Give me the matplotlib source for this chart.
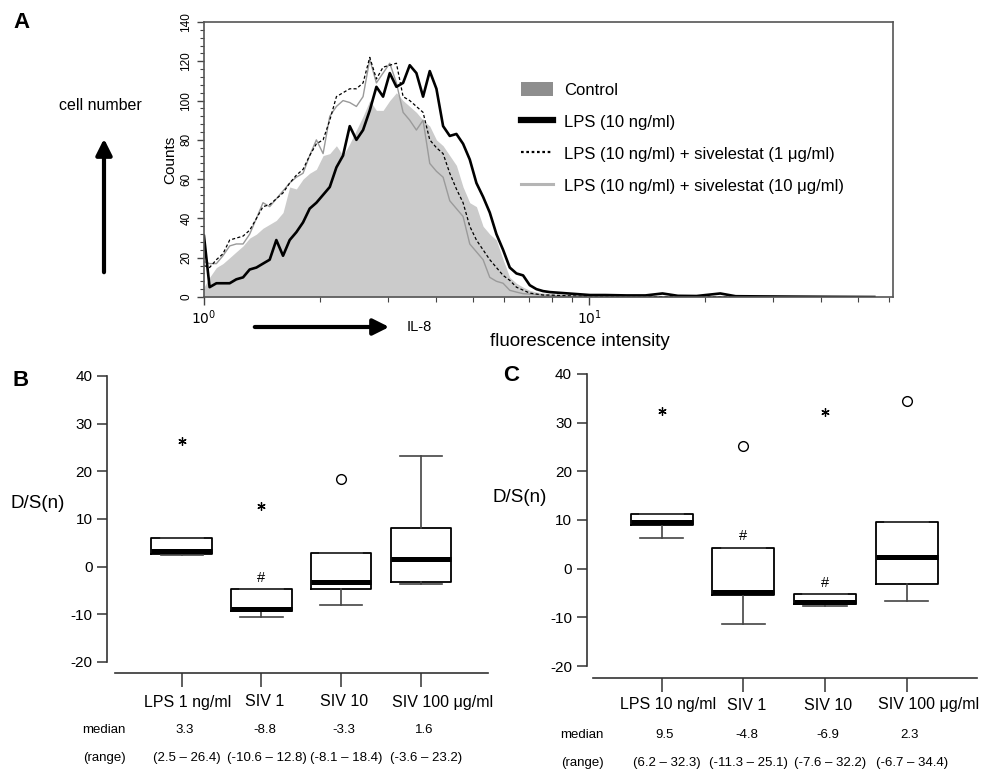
import numpy as np
import matplotlib
matplotlib.use("Agg")
import matplotlib.pyplot as plt
from matplotlib.patches import Patch, FancyArrowPatch
from matplotlib.lines import Line2D
from matplotlib.ticker import MultipleLocator, LogLocator, NullFormatter, FixedLocator
from matplotlib.transforms import blended_transform_factory, offset_copy

plt.rcParams['font.family'] = ['Liberation Sans', 'DejaVu Sans']
plt.rcParams['axes.unicode_minus'] = False

# ---------------- Panel A data (flow cytometry histogram) ----------------
intensity = [1.000, 1.034, 1.077, 1.120, 1.166, 1.213, 1.263, 1.314, 1.368, 1.423,
             1.481, 1.541, 1.604, 1.669, 1.737, 1.808, 1.881, 1.958, 2.038, 2.121,
             2.207, 2.296, 2.390, 2.487, 2.588, 2.694, 2.803, 2.917, 3.036, 3.159,
             3.288, 3.421, 3.560, 3.705, 3.856, 4.013, 4.176, 4.346, 4.522, 4.706,
             4.898, 5.097, 5.304, 5.520, 5.744, 5.978, 6.221, 6.474, 6.737, 7.011,
             7.296, 7.593, 7.901, 8.56, 9.27, 10.04,
             11.0, 12.5, 14.0, 15.5, 17.0, 19.0, 21.9, 24.0, 28.0, 34.0, 42.0, 55.0]
counts_control = [5, 10, 15, 17, 20, 23, 26, 30, 32, 35,
                  37, 39, 43, 56, 55, 60, 63, 65, 72, 73,
                  77, 72, 78, 85, 92, 100, 95, 95, 100, 104,
                  100, 97, 94, 90, 87, 80, 77, 72, 67, 56,
                  48, 46, 36, 32, 29, 19, 10, 7, 5, 3.4,
                  2.5, 2, 1.7, 1.3, 1, 0.7,
                  0.6, 0.5, 0.4, 0.4, 0.3, 0.2, 0.2, 0.1, 0.1, 0, 0, 0]
counts_lps = [31, 5, 7, 7, 7, 9, 10, 14, 15, 17,
              19, 29, 21, 29, 33, 38, 45, 48, 52, 56,
              66, 72, 87, 80, 85, 95, 107, 102, 114, 107,
              109, 118, 114, 102, 115, 106, 87, 82, 83, 78,
              70, 58, 51, 43, 32, 24, 15, 12, 11, 6,
              4, 3, 2.5, 2, 1.5, 1,
              1, 0.8, 0.8, 1.8, 0.6, 0.5, 1.8, 0.4, 0.3, 0.2, 0.1, 0]
counts_siv1 = [16, 15, 19, 22, 29, 30, 31, 34, 40, 46,
               47, 50, 53, 58, 62, 65, 72, 78, 80, 90,
               102, 104, 106, 106, 109, 122, 111, 117, 118, 119,
               102, 100, 97, 94, 80, 76, 73, 63, 55, 48,
               36, 29, 24, 19, 15, 11, 8.5, 5, 3.5, 2,
               1.5, 1, 1, 0.7, 0.5, 0.4,
               0.3, 0.3, 0.2, 0.2, 0.1, 0.1, 0.1, 0, 0, 0, 0, 0]
counts_siv10 = [18, 17, 17, 21, 26, 27, 27, 32, 40, 48,
                46, 50, 54, 58, 61, 63, 72, 80, 73, 92,
                97, 100, 99, 97, 102, 121, 109, 114, 119, 109,
                94, 90, 85, 90, 68, 64, 61, 49, 45, 41,
                27, 23, 19, 10, 8, 7, 3.4, 2.5, 1.7, 1.5,
                1.2, 1, 0.7, 0.5, 0.3, 0.2,
                0.2, 0.2, 0.1, 0.1, 0.1, 0, 0, 0, 0, 0, 0, 0]
legend_labels = ["Control", "LPS (10 ng/ml)",
                 "LPS (10 ng/ml) + sivelestat (1 \u03bcg/ml)",
                 "LPS (10 ng/ml) + sivelestat (10 \u03bcg/ml)"]

# ---------------- Panel B data ----------------
groups_B = ["LPS 1 ng/ml", "SIV 1", "SIV 10", "SIV 100 \u03bcg/ml"]
med_B = [3.3, -8.8, -3.3, 1.6]
q1_B = [2.6, -9.3, -4.8, -3.2]
q3_B = [6.1, -4.8, 2.8, 8.1]
whislo_B = [2.5, -10.6, -8.1, -3.6]
whishi_B = [6.1, -4.8, 2.8, 23.2]
extreme_B = [26.4, 12.8, None, None]
outlier_B = [None, None, 18.4, None]
sig_B = [False, True, False, False]
rng_lo_B = [2.5, -10.6, -8.1, -3.6]
rng_hi_B = [26.4, 12.8, 18.4, 23.2]

# ---------------- Panel C data ----------------
groups_C = ["LPS 10 ng/ml", "SIV 1", "SIV 10", "SIV 100 \u03bcg/ml"]
med_C = [9.5, -4.8, -6.9, 2.3]
q1_C = [9.0, -5.5, -7.3, -3.2]
q3_C = [11.2, 4.3, -5.3, 9.5]
whislo_C = [6.2, -11.3, -7.6, -6.7]
whishi_C = [11.2, 4.3, -5.3, 9.5]
extreme_C = [32.3, None, 32.2, None]
outlier_C = [None, 25.1, None, 34.4]
sig_C = [False, True, True, False]
rng_lo_C = [6.2, -11.3, -7.6, -6.7]
rng_hi_C = [32.3, 25.1, 32.2, 34.4]

yticks_box = [-20, -10, 0, 10, 20, 30, 40]

# ---------------- figure ----------------
W, H = 987, 771
fig = plt.figure(figsize=(W / 100, H / 100), dpi=100)


def fx(x):
    return x / W


def fy(y):
    return 1 - y / H


# ---------- Panel A ----------
axA = fig.add_axes([fx(204), fy(297), (893 - 204) / W, (297 - 22) / H])
axA.set_xscale('log')
axA.fill_between(intensity, counts_control, color='#cbcbcb', lw=0, zorder=1)
axA.plot(intensity, counts_siv10, color='#9a9a9a', lw=1.0, zorder=2)
axA.plot(intensity, counts_siv1, color='black', lw=0.9, dashes=(2.5, 1.8), zorder=3)
axA.plot(intensity, counts_lps, color='black', lw=1.9, zorder=4)
axA.set_xlim(1, 61.5)
axA.set_ylim(0, 140)
axA.yaxis.set_major_locator(MultipleLocator(20))
axA.yaxis.set_minor_locator(MultipleLocator(4))
axA.xaxis.set_major_locator(FixedLocator([1, 10]))
axA.xaxis.set_minor_locator(LogLocator(base=10, subs=np.arange(2, 10)))
axA.xaxis.set_minor_formatter(NullFormatter())
axA.set_xticklabels([r'$10^0$', r'$10^1$'])
axA.tick_params(axis='y', which='major', direction='out', length=5, width=1,
                labelsize=8.5, labelrotation=90, color='#444')
axA.tick_params(axis='y', which='minor', direction='out', length=3, width=0.8, color='#444')
axA.tick_params(axis='x', which='major', direction='out', length=6, width=1,
                labelsize=10, color='#444', pad=2)
axA.tick_params(axis='x', which='minor', direction='out', length=3.5, width=0.8, color='#444')
for lab in axA.get_yticklabels():
    lab.set_va('center')
for sp in axA.spines.values():
    sp.set_color('#555')
    sp.set_linewidth(1.2)
    sp.set_zorder(5)

handles = [Patch(facecolor='#8e8e8e', edgecolor='none'),
           Line2D([], [], color='black', lw=4.5),
           Line2D([], [], color='black', lw=1.6, dashes=(1.2, 1.2)),
           Line2D([], [], color='#b5b5b5', lw=2.2)]
axA.legend(handles, legend_labels, loc='upper left', bbox_to_anchor=(fx(521), fy(82)),
           bbox_transform=fig.transFigure, frameon=False, fontsize=12,
           handlelength=1.9, handleheight=0.9, handletextpad=0.7, labelspacing=0.98,
           borderpad=0, borderaxespad=0)

fig.text(fx(170), fy(160), 'Counts', rotation=90, ha='center', va='center', fontsize=11)
fig.text(fx(13), fy(22), 'A', fontsize=16, fontweight='bold', ha='left', va='center')
fig.text(fx(100), fy(105), 'cell number', fontsize=11.5, ha='center', va='center')
fig.add_artist(FancyArrowPatch(
    (fx(104), fy(275)), (fx(104), fy(136)), transform=fig.transFigure,
    arrowstyle='-|>,head_length=6,head_width=3', lw=3, color='black', mutation_scale=1.6))
fig.add_artist(FancyArrowPatch(
    (fx(252), fy(327)), (fx(392), fy(327)), transform=fig.transFigure,
    arrowstyle='-|>,head_length=6,head_width=3', lw=3, color='black', mutation_scale=1.6))
fig.text(fx(407), fy(327), 'IL-8', fontsize=10.5, ha='left', va='center')
fig.text(fx(580), fy(341), 'fluorescence intensity', fontsize=13.5, ha='center', va='center')


# ---------- box panels ----------
def box_panel(rect, xlim, ylim, base_y, base_bounds, groups, label_dx,
              med, q1, q3, wlo, whi, ext, out, sig, rlo, rhi,
              letter, letter_px, ylabel_px, label_py, med_py, rng_py, head_px):
    ax = fig.add_axes(rect)
    pos = np.arange(1, len(groups) + 1)
    stats = [dict(med=m, q1=a, q3=b, whislo=lo, whishi=hi, fliers=[])
             for m, a, b, lo, hi in zip(med, q1, q3, wlo, whi)]
    ax.bxp(stats, positions=pos, widths=0.76, capwidths=0.53, showfliers=False,
           boxprops=dict(color='black', lw=1.3),
           medianprops=dict(color='black', lw=3.6, solid_capstyle='butt'),
           whiskerprops=dict(color='#444', lw=1.2),
           capprops=dict(color='#444', lw=1.2), manage_ticks=False)
    for p, v in zip(pos, ext):
        if v is not None:
            ax.plot([p], [v], ls='none', marker=(6, 2, 0), ms=6, mew=0.9, color='black')
    for p, v in zip(pos, out):
        if v is not None:
            ax.plot([p], [v], ls='none', marker='o', ms=7, mfc='none', mec='black', mew=1.0)
    for p, s, top in zip(pos, sig, q3):
        if s:
            ax.text(p, top + 1.0, '#', ha='center', va='bottom', fontsize=10.5)
    ax.set_xlim(*xlim)
    ax.set_ylim(*ylim)
    ax.spines['top'].set_visible(False)
    ax.spines['right'].set_visible(False)
    ax.spines['left'].set_bounds(-20, 40)
    ax.spines['bottom'].set_position(('data', base_y))
    ax.spines['bottom'].set_bounds(*base_bounds)
    for sp in ('left', 'bottom'):
        ax.spines[sp].set_color('#333')
        ax.spines[sp].set_linewidth(1.2)
    ax.set_yticks(yticks_box)
    ax.set_xticks(pos)
    ax.set_xticklabels([''] * len(pos))
    ax.tick_params(axis='y', direction='out', length=7, width=1.1, labelsize=11, color='#333')
    ax.tick_params(axis='x', direction='out', length=10, width=1.1, color='#333')
    trans = blended_transform_factory(ax.transData, fig.transFigure)
    for p, g, dx in zip(pos, groups, label_dx):
        ax.text(p, fy(label_py), g, transform=offset_copy(trans, fig=fig, x=dx * 0.72, units='points'),
                ha='center', va='center', fontsize=11.5)
    for p, m, lo, hi in zip(pos, med, rlo, rhi):
        ax.text(p, fy(med_py), f'{m:.1f}', transform=offset_copy(trans, fig=fig, x=3 * 0.72, units='points'),
                ha='center', va='center', fontsize=9.5)
        ax.text(p, fy(rng_py), f'({lo:.1f} \u2013 {hi:.1f})',
                transform=offset_copy(trans, fig=fig, x=5 * 0.72, units='points'),
                ha='center', va='center', fontsize=9.5)
    fig.text(fx(head_px), fy(med_py), 'median', ha='center', va='center', fontsize=9.5)
    fig.text(fx(head_px), fy(rng_py), '(range)', ha='center', va='center', fontsize=9.5)
    fig.text(fx(letter_px[0]), fy(letter_px[1]), letter, fontsize=16, fontweight='bold',
             ha='left', va='center')
    fig.text(fx(ylabel_px[0]), fy(ylabel_px[1]), 'D/S(n)', fontsize=13.5, ha='center', va='center')
    return ax


# Panel B: left spine at x=107, 40 at y=376, -20 at y=662 (px)
box_panel([fx(107.3), fy(681), (490 - 107.3) / W, (681 - 371.2) / H],
          (0.067, 4.868), (-24, 41), -22.3, (0.16, 4.84), groups_B, [6, 3, 3, 22],
          med_B, q1_B, q3_B, whislo_B, whishi_B, extreme_B, outlier_B, sig_B,
          rng_lo_B, rng_hi_B, 'B', (13, 380), (38, 503), 702, 730, 758, 104)

# Panel C: left spine at x=587, 40 at y=374, -20 at y=666 (px)
box_panel([fx(586.7), fy(685.5), (982 - 586.7) / W, (685.5 - 369.1) / H],
          (0.082, 4.920), (-24, 41), -22.5, (0.159, 4.855), groups_C, [6, 3, 3, 22],
          med_C, q1_C, q3_C, whislo_C, whishi_C, extreme_C, outlier_C, sig_C,
          rng_lo_C, rng_hi_C, 'C', (503, 375), (520, 498), 705, 735, 763, 582)

fig.savefig('out.png', dpi=100)
